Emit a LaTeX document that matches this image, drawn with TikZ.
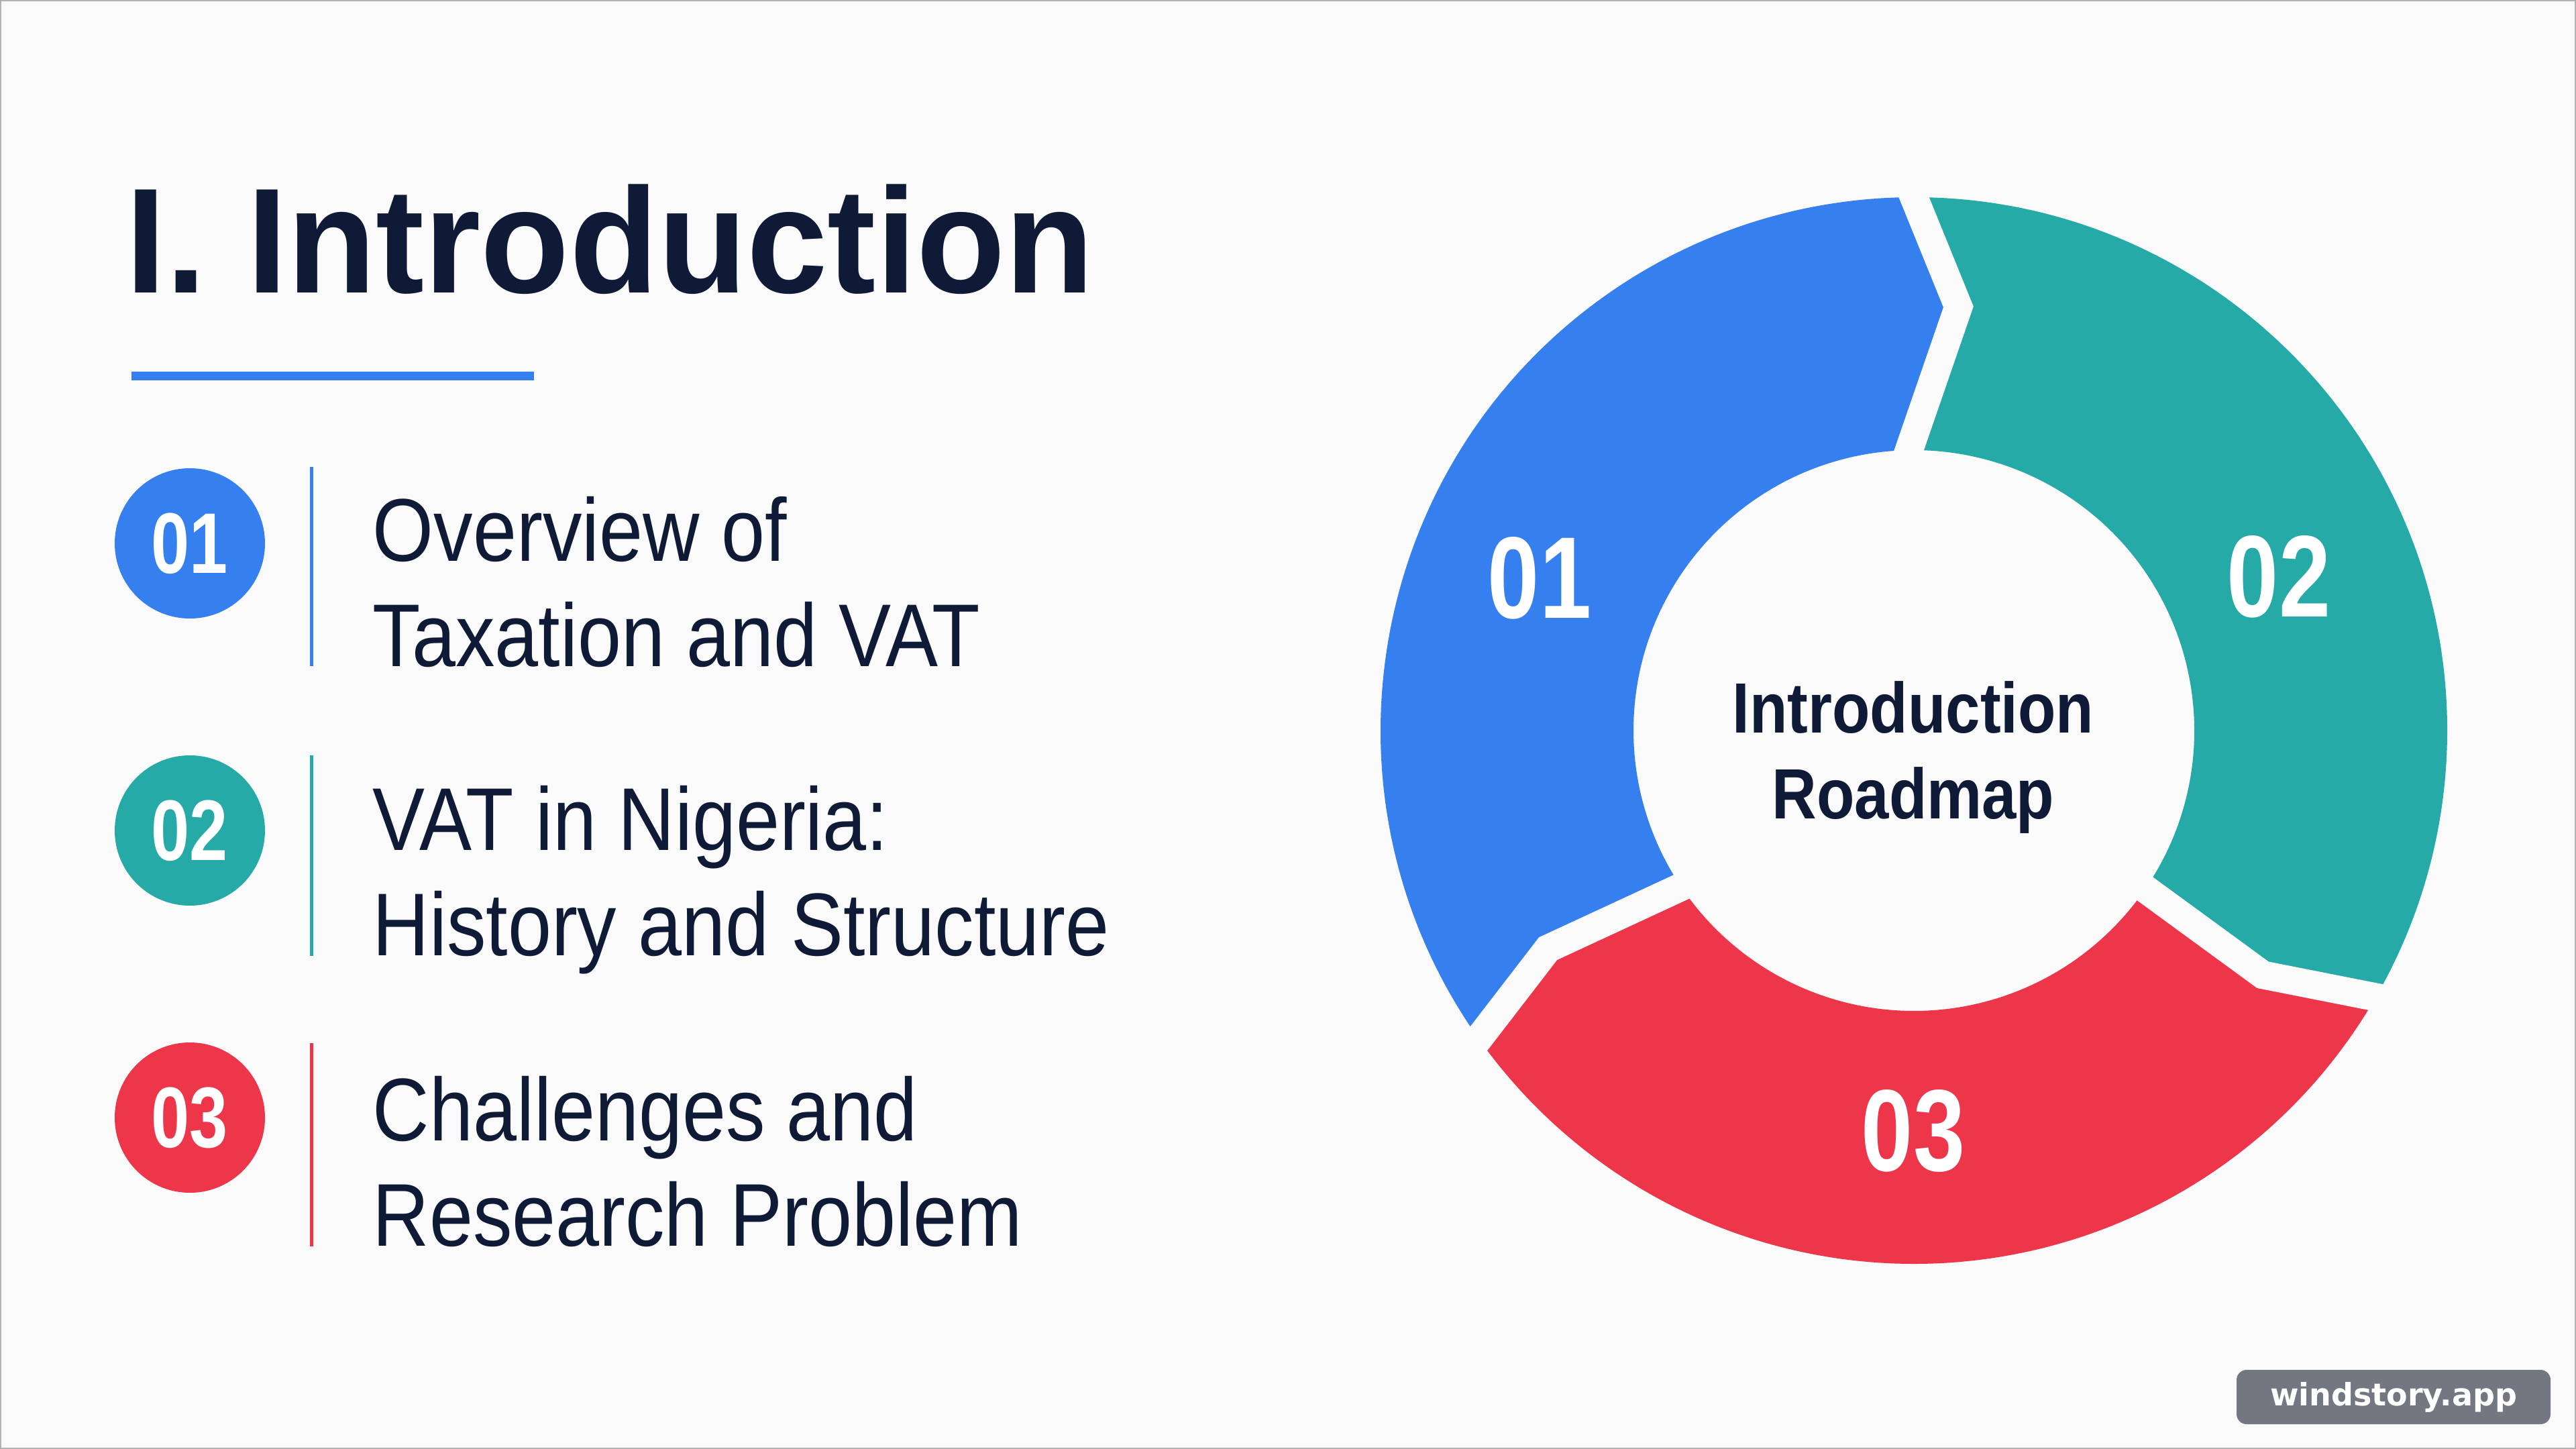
\documentclass[tikz,border=0pt]{standalone}
\usepackage{fontspec}
\setmainfont{Liberation Sans}
\newfontfamily\titlefont[FakeStretch=0.97]{Liberation Sans}
\newfontfamily\itemfont[FakeStretch=0.88]{Liberation Sans}
\newfontfamily\numfont[FakeStretch=0.8]{Liberation Sans}
\newfontfamily\hubfont[FakeStretch=0.87]{Liberation Sans}
\newfontfamily\tagfont{DejaVu Sans}
\usetikzlibrary{calc}

\definecolor{navy}{HTML}{0F1B36}
\definecolor{cblue}{HTML}{3580EE}
\definecolor{cteal}{HTML}{25AAA8}
\definecolor{cred}{HTML}{EE364B}
\definecolor{paper}{HTML}{FAFAFB}
\definecolor{tagfill}{HTML}{737782}

\tikzset{
  numdot/.style={circle,minimum size=2.24cm,inner sep=0pt,text=white,
    font=\numfont\bfseries\fontsize{36.5}{36.5}\selectfont},
  itemtext/.style={anchor=base west,inner sep=0pt,align=left,text=navy,
    font=\itemfont\fontsize{37.8}{44.4}\selectfont},
  sepline/.style={line width=0.05cm},
  ringnum/.style={text=white,font=\numfont\bfseries\fontsize{49.3}{49.3}\selectfont},
  gapline/.style={draw=paper,line width=0.42cm,line join=miter,
    shorten <=-0.3cm,shorten >=-0.3cm},
}

\begin{document}
\begin{tikzpicture}
  \fill[paper] (0,0) rectangle (38.4,-21.6);
  \draw[black!30,line width=0.02cm] (0.01,-0.01) rectangle (38.39,-21.59);
  \useasboundingbox (0,0) rectangle (38.4,-21.6);

  \node[anchor=base west,inner sep=0pt,text=navy,
    font=\titlefont\bfseries\fontsize{63.5}{63.5}\selectfont] (title) at (1.87,-4.37) {I. Introduction};
  \draw[cblue,line width=0.13cm] (1.96,-5.61) -- (7.96,-5.61);

  \node[numdot,fill=cblue] (n1) at (2.83,-8.10) {01};
  \node[numdot,fill=cteal] (n2) at (2.83,-12.38) {02};
  \node[numdot,fill=cred] (n3) at (2.83,-16.66) {03};
  \draw[sepline,cblue] (4.64,-6.96) -- (4.64,-9.93);
  \draw[sepline,cteal] (4.64,-11.26) -- (4.64,-14.25);
  \draw[sepline,cred] (4.64,-15.55) -- (4.64,-18.58);
  \node[itemtext] (t1) at (5.55,-9.93) {Overview of\\Taxation and VAT};
  \node[itemtext] (t2) at (5.55,-14.24) {VAT in Nigeria:\\History and Structure};
  \node[itemtext] (t3) at (5.55,-18.57) {Challenges and\\Research Problem};

  \begin{scope}[shift={(28.53,-10.89)}]
    \fill[cblue] (215.3:7.95) arc[start angle=215.3,end angle=90,radius=7.95]
      -- (84:6.35) -- (91:4.18) arc[start angle=91,end angle=213.9,radius=4.18]
      -- (210.8:6.35) -- cycle;
    \fill[cteal] (90:7.95) arc[start angle=90,end angle=-30,radius=7.95]
      -- (-35:6.35) -- (-34.4:4.18) arc[start angle=-34.4,end angle=91,radius=4.18]
      -- (84:6.35) -- cycle;
    \fill[cred] (-30:7.95) arc[start angle=-30,end angle=-144.7,radius=7.95]
      -- (210.8:6.35) -- (213.9:4.18) arc[start angle=213.9,end angle=325.6,radius=4.18]
      -- (-35:6.35) -- cycle;
    \draw[gapline] (90:7.95) -- (84:6.35) -- (91:4.18);
    \draw[gapline] (-30:7.95) -- (-35:6.35) -- (-34.4:4.18);
    \draw[gapline] (215.3:7.95) -- (210.8:6.35) -- (213.9:4.18);
  \end{scope}
  \node[ringnum] (r1) at (22.95,-8.62) {01};
  \node[ringnum] (r2) at (33.97,-8.60) {02};
  \node[ringnum] (r3) at (28.52,-16.86) {03};
  \node[align=center,text=navy,inner sep=0pt,
    font=\hubfont\bfseries\fontsize{30.2}{36.4}\selectfont] (hub) at (28.52,-11.29) {Introduction\\Roadmap};

  \node[fill=tagfill,rounded corners=0.15cm,text=white,inner sep=0pt,
    minimum width=4.68cm,minimum height=0.81cm,
    font=\tagfont\bfseries\fontsize{13.1}{13.1}\selectfont] (tag) at (35.68,-20.825) {windstory.app};
\end{tikzpicture}
\end{document}
